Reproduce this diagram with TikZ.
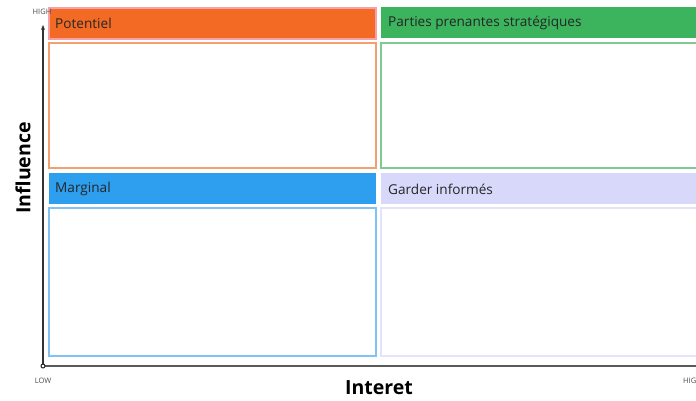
\documentclass[tikz,border=0pt]{standalone}
\usepackage{fontspec}
\setmainfont{Open Sans}
\usetikzlibrary{arrows.meta}
\definecolor{orangeH}{HTML}{F26A23}
\definecolor{orangeB}{HTML}{F4A06E}
\definecolor{pinkB}{HTML}{F6A0A8}
\definecolor{greenH}{HTML}{3BB45D}
\definecolor{greenB}{HTML}{7DCB92}
\definecolor{blueH}{HTML}{2E9EEE}
\definecolor{blueB}{HTML}{82C2F3}
\definecolor{lavH}{HTML}{D7D8FA}
\definecolor{lavB}{HTML}{E3E4FB}
\tikzset{
  hdr/.style={minimum height=#1, inner sep=0pt, outer sep=0pt, anchor=north west},
  boxb/.style={draw, line width=1.2pt, inner sep=0pt, outer sep=0pt, anchor=north west},
  lbl/.style={font=\fontsize{13.6}{15}\selectfont, text=black!85, anchor=west, inner sep=0pt},
  tick/.style={font=\fontsize{7.5}{8}\selectfont, text=black!70, inner sep=0pt},
  axtitle/.style={font=\fontsize{19.5}{22}\selectfont\bfseries, inner sep=0pt}
}
\begin{document}
\begin{tikzpicture}[x=1pt,y=-1pt]
\useasboundingbox (0,0) rectangle (696,400);
% headers
\node[hdr=31pt, minimum width=327pt, fill=orangeH, draw=pinkB, line width=1.5pt] (hpot) at (49,8) {};
\node[hdr=31pt, minimum width=316pt, fill=greenH] (hstr) at (381,7) {};
\node[hdr=31pt, minimum width=327pt, fill=blueH] (hmar) at (49,173) {};
\node[hdr=31pt, minimum width=316pt, fill=lavH] (hgar) at (381,173) {};
% boxes
\node[boxb, draw=orangeB, minimum width=327pt, minimum height=125pt] (bpot) at (49,43) {};
\node[boxb, draw=greenB, minimum width=317pt, minimum height=125pt] (bstr) at (381,43) {};
\node[boxb, draw=blueB, minimum width=327pt, minimum height=148pt] (bmar) at (49,208) {};
\node[boxb, draw=lavB, minimum width=317pt, minimum height=148pt] (bgar) at (381,208) {};
% labels
\node[lbl] at (55,23) {Potentiel};
\node[lbl] at (388,23) {Parties prenantes stratégiques};
\node[lbl] at (55,189) {Marginal};
\node[lbl] at (388,189) {Garder informés};
% axes
\coordinate (o) at (43,366);
\coordinate (top) at (43,25);
\coordinate (right) at (697,366);
\draw[line width=1.3pt, -{Stealth[length=5pt,width=4pt]}, black!80] (o) -- (top);
\draw[line width=1.3pt, black!65] (o) -- (right);
\draw[black!85, line width=1pt, fill=white] (o) circle (2pt);
\node[tick] (high) at (42,12) {HIGH};
\node[tick] (low) at (43,381) {LOW};
\node[tick, anchor=west] (high2) at (683,381) {HIGH};
\node[axtitle] (xl) at (379,388) {Interet};
\node[axtitle, rotate=90] (yl) at (23,168) {Influence};
\end{tikzpicture}
\end{document}
